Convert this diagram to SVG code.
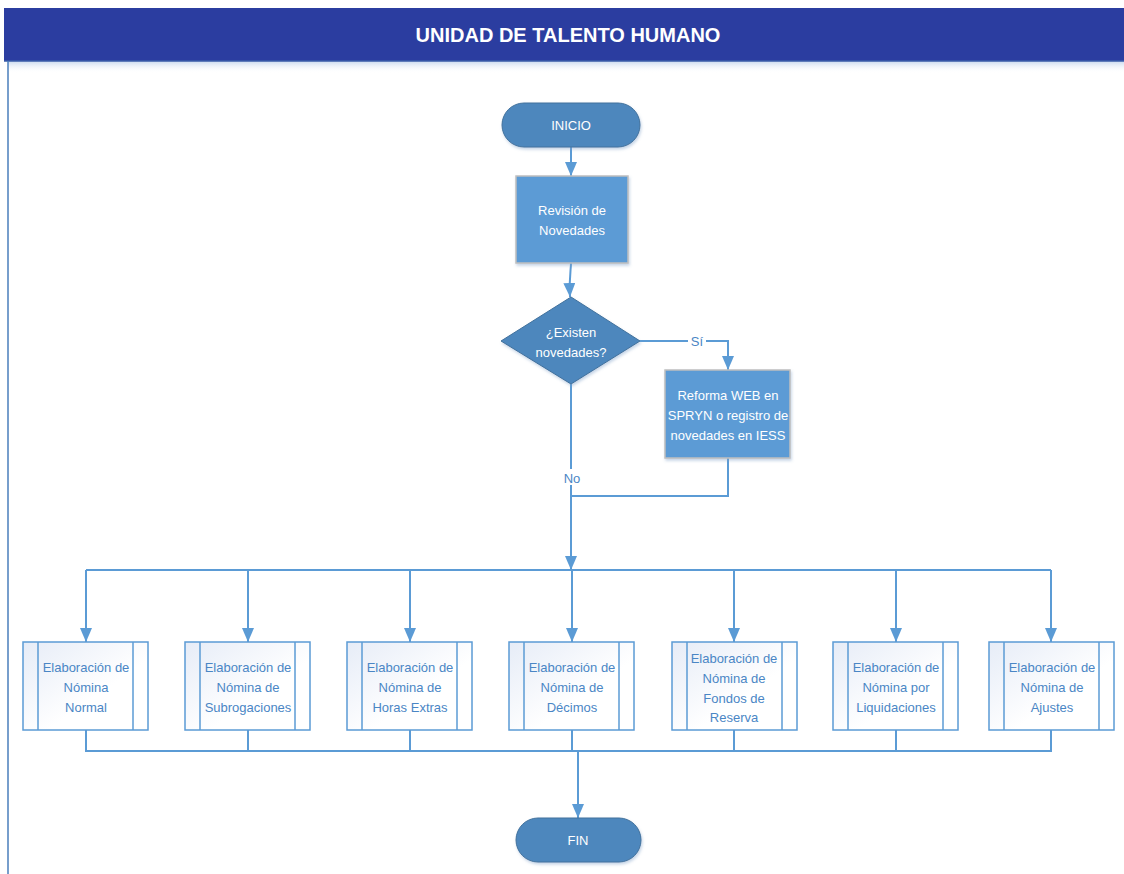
<svg xmlns="http://www.w3.org/2000/svg" width="1124" height="874" viewBox="0 0 1124 874">
  <defs>
    <marker id="arrow" viewBox="0 0 14 12" refX="14" refY="6" markerWidth="14" markerHeight="12" markerUnits="userSpaceOnUse" orient="auto">
      <path d="M0,0 L14,6 L0,12 Z" fill="#5B9BD5"/>
    </marker>
    <linearGradient id="subFill" x1="0" y1="0" x2="1" y2="1">
      <stop offset="0" stop-color="#E6ECF7"/>
      <stop offset="0.6" stop-color="#FFFFFF"/>
    </linearGradient>
    <linearGradient id="headShadow" x1="0" y1="0" x2="0" y2="1">
      <stop offset="0" stop-color="#C9D9EE"/>
      <stop offset="1" stop-color="#FFFFFF" stop-opacity="0"/>
    </linearGradient>
    <filter id="shadow" x="-10%" y="-10%" width="125%" height="130%">
      <feDropShadow dx="1" dy="2" stdDeviation="1.5" flood-color="#7F9FC8" flood-opacity="0.45"/>
    </filter>
  </defs>
  <style>
    .term { fill: #4D87BD; stroke: #41719C; stroke-width: 1; }
    .proc { fill: #5B9BD5; stroke: #BFBFBF; stroke-width: 1.5; }
    .dec { fill: #4D87BD; stroke: #41719C; stroke-width: 1; }
    .sub { fill: url(#subFill); stroke: #5B9BD5; stroke-width: 1.5; }
    .sub-line { stroke: #5B9BD5; stroke-width: 1.5; }
    .w { fill: #FFFFFF; font-family: "Liberation Sans", Arial, sans-serif; font-size: 13px; text-anchor: middle; }
    .b { fill: #4A86C5; font-family: "Liberation Sans", Arial, sans-serif; font-size: 13px; text-anchor: middle; }
    .lbl { fill: #4A86C5; font-family: "Liberation Sans", Arial, sans-serif; font-size: 13px; text-anchor: middle; }
    .conn { fill: none; stroke: #5B9BD5; stroke-width: 2; }
  </style>

  <rect width="1124" height="874" fill="#FFFFFF"/>

  <!-- header band -->
  <g id="header">
    <rect x="8" y="61" width="1116" height="12" fill="url(#headShadow)"/>
    <rect x="4" y="8" width="1120" height="53" fill="#2B3DA0"/>
    <line x1="4" y1="61" x2="1124" y2="61" stroke="#3A5DA8" stroke-width="1.5"/>
    <line x1="8" y1="61" x2="8" y2="874" stroke="#4A7EBB" stroke-width="1.5"/>
    <text x="568" y="42" fill="#FFFFFF" font-family="'Liberation Sans', Arial, sans-serif" font-size="20" font-weight="bold" text-anchor="middle">UNIDAD DE TALENTO HUMANO</text>
  </g>

  <!-- connectors -->
  <g id="connectors">
    <path class="conn" d="M571,147 V176" marker-end="url(#arrow)"/>
    <path class="conn" d="M571,263 C571,270 569,275 570,297" marker-end="url(#arrow)"/>
    <path class="conn" d="M640,341 H728 V370" marker-end="url(#arrow)"/>
    <path class="conn" d="M571,384 V570" marker-end="url(#arrow)"/>
    <path class="conn" d="M728,458 V496 H571"/>
    <path class="conn" d="M86,570 H1051"/>
    <path class="conn" d="M86,570 V642" marker-end="url(#arrow)"/>
    <path class="conn" d="M248,570 V642" marker-end="url(#arrow)"/>
    <path class="conn" d="M410,570 V642" marker-end="url(#arrow)"/>
    <path class="conn" d="M572,570 V642" marker-end="url(#arrow)"/>
    <path class="conn" d="M734,570 V642" marker-end="url(#arrow)"/>
    <path class="conn" d="M896,570 V642" marker-end="url(#arrow)"/>
    <path class="conn" d="M1051,570 V642" marker-end="url(#arrow)"/>
    <path class="conn" d="M86,730 V751 H1051 V730"/>
    <path class="conn" d="M248,730 V751"/>
    <path class="conn" d="M410,730 V751"/>
    <path class="conn" d="M572,730 V751"/>
    <path class="conn" d="M734,730 V751"/>
    <path class="conn" d="M896,730 V751"/>
    <path class="conn" d="M578,751 V818" marker-end="url(#arrow)"/>
    <rect x="688" y="333" width="18" height="16" fill="#FFFFFF"/>
    <text class="lbl" x="697" y="346">Sí</text>
    <rect x="560" y="469" width="24" height="16" fill="#FFFFFF"/>
    <text class="lbl" x="572" y="483">No</text>
  </g>

  <g id="inicio">
    <rect class="term" x="502" y="103" width="138" height="44" rx="22" filter="url(#shadow)"/>
    <text class="w" x="571" y="130">INICIO</text>
  </g>

  <g id="revision">
    <rect class="proc" x="516" y="176" width="112" height="87" filter="url(#shadow)"/>
    <text class="w" x="572" y="215">Revisión de</text>
    <text class="w" x="572" y="235">Novedades</text>
  </g>

  <g id="existen">
    <path class="dec" d="M571,297 L640,341 L571,384 L501,341 Z" filter="url(#shadow)"/>
    <text class="w" x="571" y="337">¿Existen</text>
    <text class="w" x="571" y="357">novedades?</text>
  </g>

  <g id="reforma">
    <rect class="proc" x="665" y="370" width="125" height="88" filter="url(#shadow)"/>
    <text class="w" x="728" y="400">Reforma WEB en</text>
    <text class="w" x="728" y="420">SPRYN o registro de</text>
    <text class="w" x="728" y="440">novedades en IESS</text>
  </g>

  <g id="nomina-normal">
    <rect class="sub" x="23" y="642" width="125" height="88"/>
    <line class="sub-line" x1="38" y1="642" x2="38" y2="730"/>
    <line class="sub-line" x1="133" y1="642" x2="133" y2="730"/>
    <text class="b" x="86" y="672">Elaboración de</text>
    <text class="b" x="86" y="692">Nómina</text>
    <text class="b" x="86" y="712">Normal</text>
  </g>

  <g id="nomina-subrogaciones">
    <rect class="sub" x="185" y="642" width="125" height="88"/>
    <line class="sub-line" x1="200" y1="642" x2="200" y2="730"/>
    <line class="sub-line" x1="295" y1="642" x2="295" y2="730"/>
    <text class="b" x="248" y="672">Elaboración de</text>
    <text class="b" x="248" y="692">Nómina de</text>
    <text class="b" x="248" y="712">Subrogaciones</text>
  </g>

  <g id="nomina-horas-extras">
    <rect class="sub" x="347" y="642" width="125" height="88"/>
    <line class="sub-line" x1="362" y1="642" x2="362" y2="730"/>
    <line class="sub-line" x1="457" y1="642" x2="457" y2="730"/>
    <text class="b" x="410" y="672">Elaboración de</text>
    <text class="b" x="410" y="692">Nómina de</text>
    <text class="b" x="410" y="712">Horas Extras</text>
  </g>

  <g id="nomina-decimos">
    <rect class="sub" x="509" y="642" width="125" height="88"/>
    <line class="sub-line" x1="524" y1="642" x2="524" y2="730"/>
    <line class="sub-line" x1="619" y1="642" x2="619" y2="730"/>
    <text class="b" x="572" y="672">Elaboración de</text>
    <text class="b" x="572" y="692">Nómina de</text>
    <text class="b" x="572" y="712">Décimos</text>
  </g>

  <g id="nomina-fondos-reserva">
    <rect class="sub" x="672" y="642" width="125" height="88"/>
    <line class="sub-line" x1="687" y1="642" x2="687" y2="730"/>
    <line class="sub-line" x1="782" y1="642" x2="782" y2="730"/>
    <text class="b" x="734" y="663">Elaboración de</text>
    <text class="b" x="734" y="683">Nómina de</text>
    <text class="b" x="734" y="703">Fondos de</text>
    <text class="b" x="734" y="722">Reserva</text>
  </g>

  <g id="nomina-liquidaciones">
    <rect class="sub" x="833" y="642" width="125" height="88"/>
    <line class="sub-line" x1="848" y1="642" x2="848" y2="730"/>
    <line class="sub-line" x1="943" y1="642" x2="943" y2="730"/>
    <text class="b" x="896" y="672">Elaboración de</text>
    <text class="b" x="896" y="692">Nómina por</text>
    <text class="b" x="896" y="712">Liquidaciones</text>
  </g>

  <g id="nomina-ajustes">
    <rect class="sub" x="989" y="642" width="125" height="88"/>
    <line class="sub-line" x1="1004" y1="642" x2="1004" y2="730"/>
    <line class="sub-line" x1="1099" y1="642" x2="1099" y2="730"/>
    <text class="b" x="1052" y="672">Elaboración de</text>
    <text class="b" x="1052" y="692">Nómina de</text>
    <text class="b" x="1052" y="712">Ajustes</text>
  </g>

  <g id="fin">
    <rect class="term" x="516" y="818" width="125" height="44" rx="22" filter="url(#shadow)"/>
    <text class="w" x="578" y="845">FIN</text>
  </g>
</svg>
